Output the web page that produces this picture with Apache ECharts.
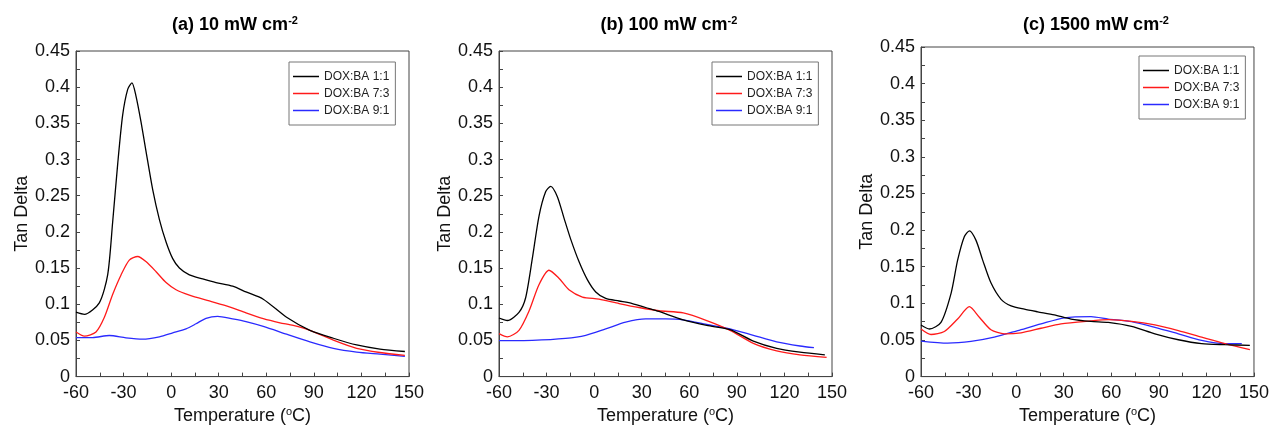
<!DOCTYPE html>
<html>
<head>
<meta charset="utf-8">
<script src="https://cdn.jsdelivr.net/npm/echarts@6/dist/echarts.min.js"></script>
<style>
  html, body { margin: 0; padding: 0; background: #fff; }
  #main { width: 1272px; height: 430px; }
</style>
</head>
<body>
<div id="main"></div>
<script>
// series names and panel titles
var seriesNames = ['DOX:BA 1:1', 'DOX:BA 7:3', 'DOX:BA 9:1'];
var seriesColors = ['#000000', '#ff1a1a', '#2a2aff'];
var panelTitles = ['(a) 10 mW cm{sup|-2}', '(b) 100 mW cm{sup|-2}', '(c) 1500 mW cm{sup|-2}'];
var xTicks = [-60, -30, 0, 30, 60, 90, 120, 150];

// (a) 10 mW cm-2   [temperature, tan delta]
var a11 = [[-60,0.089],[-54.7,0.086],[-45.3,0.102],[-40,0.141],[-36.9,0.213],[-33.7,0.294],[-30.6,0.361],[-27.4,0.397],[-24.7,0.406],[-22.2,0.388],[-19,0.352],[-15.9,0.312],[-11.6,0.258],[-7.4,0.217],[-3.2,0.186],[1,0.163],[5.2,0.150],[11.5,0.1405],[19.9,0.135],[28.3,0.130],[38.8,0.125],[47.2,0.117],[58.1,0.107],[72.8,0.082],[87.5,0.064],[102.3,0.053],[117,0.0437],[131.7,0.038],[147.4,0.0347]];
var a73 = [[-60,0.0617],[-54.7,0.056],[-47.4,0.0617],[-42.1,0.082],[-36.9,0.1135],[-31.6,0.1405],[-26.4,0.161],[-21.1,0.166],[-15.9,0.159],[-9.5,0.145],[-3.2,0.130],[3.1,0.120],[11.5,0.1126],[24.1,0.1045],[36.7,0.0964],[47.2,0.088],[58.1,0.080],[68.6,0.0743],[77,0.0707],[87.5,0.064],[102.3,0.0504],[117,0.039],[131.7,0.0333],[147.4,0.0293]];
var a91 = [[-60,0.054],[-49.5,0.054],[-39,0.0568],[-28.5,0.0536],[-18,0.0518],[-7.4,0.055],[1,0.0604],[9.4,0.066],[15.7,0.073],[22,0.0806],[29.3,0.0833],[38.8,0.0797],[47.2,0.076],[58.1,0.0694],[72.8,0.0586],[87.5,0.048],[102.3,0.039],[117,0.0338],[131.7,0.031],[147.4,0.028]];

// (b) 100 mW cm-2
var b11 = [[-60,0.081],[-54.7,0.0775],[-47.4,0.0888],[-43.2,0.109],[-39,0.163],[-34.8,0.2216],[-30.6,0.2554],[-27.4,0.263],[-23.2,0.2487],[-19,0.219],[-14.8,0.190],[-9.5,0.1586],[-4.3,0.134],[1,0.117],[7.3,0.108],[15.7,0.1045],[24.1,0.101],[32.5,0.0955],[40.9,0.090],[56.2,0.0784],[71,0.0707],[85.7,0.065],[100.4,0.049],[115.1,0.039],[129.8,0.0338],[145.5,0.030]];
var b73 = [[-60,0.0595],[-54.7,0.055],[-47.4,0.064],[-41,0.091],[-34.8,0.127],[-28.5,0.147],[-22.2,0.136],[-15.9,0.120],[-7.4,0.110],[3.1,0.107],[15.7,0.101],[28.3,0.0955],[40.9,0.091],[56.2,0.088],[71,0.0775],[85.7,0.064],[100.4,0.046],[115.1,0.0356],[129.8,0.030],[146.6,0.0266]];
var b91 = [[-60,0.0496],[-39,0.050],[-18,0.0527],[-5.3,0.057],[7.3,0.066],[19.9,0.0752],[32.5,0.0797],[45.1,0.0797],[56.2,0.0784],[71,0.072],[85.7,0.066],[100.4,0.057],[115.1,0.048],[129.8,0.0423],[138.6,0.040]];

// (c) 1500 mW cm-2
var c11 = [[-60,0.0705],[-54.7,0.065],[-47.4,0.074],[-41,0.114],[-36.9,0.159],[-32.7,0.191],[-29.5,0.199],[-25.3,0.186],[-21.1,0.159],[-15.9,0.128],[-9.5,0.1055],[-3.2,0.0965],[5.2,0.092],[13.6,0.0885],[24.1,0.0844],[34.6,0.0786],[47.2,0.0754],[58.1,0.074],[72.8,0.0686],[87.5,0.0584],[102.3,0.0503],[117,0.045],[131.7,0.0436],[147.4,0.0426]];
var c73 = [[-60,0.065],[-53.7,0.0575],[-45.3,0.0615],[-36.9,0.0786],[-29.5,0.0955],[-23.2,0.081],[-15.9,0.064],[-7.4,0.0584],[3.1,0.0598],[15.7,0.066],[28.3,0.072],[47.2,0.076],[58.1,0.0777],[72.8,0.0754],[87.5,0.0705],[102.3,0.0628],[117,0.0538],[131.7,0.045],[147.4,0.0368]];
var c91 = [[-60,0.0485],[-43.2,0.0457],[-28.5,0.048],[-13.8,0.0538],[1,0.0628],[15.7,0.072],[30.4,0.0803],[47.2,0.082],[58.1,0.0786],[72.8,0.075],[87.5,0.0673],[102.3,0.0584],[117,0.0494],[131.7,0.045],[142.3,0.045]];

var panelData = [[a11, a73, a91], [b11, b73, b91], [c11, c73, c91]];

(function () {
    var myChart = echarts.init(document.getElementById('main'));
    var font = 'Liberation Sans, Arial, sans-serif';

    // plot boxes in pixels
    var boxes = [
        {left: 76, top: 51, width: 333, height: 333},
        {left: 499, top: 51, width: 333, height: 333},
        {left: 921, top: 47, width: 333, height: 335}
    ];
    var titleX = [230, 664, 1091];
    var legendPos = [[289, 62], [712, 62], [1139, 56]];

    var grids = [], xAxes = [], yAxes = [], titles = [], legends = [], series = [];

    boxes.forEach(function (b, i) {
        grids.push({
            left: b.left, top: b.top, width: b.width, height: b.height,
            show: true, borderColor: '#444', borderWidth: 1, backgroundColor: 'transparent'
        });
        xAxes.push({
            gridIndex: i, type: 'value', min: xTicks[0], max: xTicks[xTicks.length - 1], interval: 30,
            name: 'Temperature ({sup|o}C)', nameLocation: 'middle', nameGap: 26,
            nameTextStyle: {
                fontFamily: font, fontSize: 18, color: '#111',
                rich: {sup: {fontSize: 11, fontFamily: font, color: '#111', padding: [0, 0, 8, 0]}}
            },
            axisLine: {show: true, onZero: false, lineStyle: {color: '#444', width: 1}},
            axisTick: {show: true, inside: true, length: 4, lineStyle: {color: '#444'}},
            minorTick: {show: true, splitNumber: 2, length: 4, lineStyle: {color: '#444'}},
            axisLabel: {fontFamily: font, fontSize: 18, color: '#111', margin: 7, showMinLabel: true, showMaxLabel: true},
            splitLine: {show: false}
        });
        yAxes.push({
            gridIndex: i, type: 'value', min: 0, max: 0.45, interval: 0.05,
            name: 'Tan Delta', nameLocation: 'middle', nameGap: 45,
            nameTextStyle: {fontFamily: font, fontSize: 18, color: '#111'},
            axisLine: {show: true, onZero: false, lineStyle: {color: '#444', width: 1}},
            axisTick: {show: true, inside: true, length: 4, lineStyle: {color: '#444'}},
            minorTick: {show: true, splitNumber: 2, length: 4, lineStyle: {color: '#444'}},
            axisLabel: {fontFamily: font, fontSize: 18, color: '#111', margin: 6},
            splitLine: {show: false}
        });
        titles.push({
            text: panelTitles[i], left: titleX[i], top: 10, textAlign: 'center',
            textStyle: {
                fontFamily: font, fontSize: 18, fontWeight: 'bold', color: '#000',
                rich: {sup: {fontSize: 11, fontWeight: 'bold', fontFamily: font, color: '#000', padding: [0, 0, 9, 0]}}
            }
        });
        legends.push({
            data: seriesNames, orient: 'vertical', left: legendPos[i][0], top: legendPos[i][1],
            padding: [8, 6, 8, 4], itemGap: 4, itemWidth: 26, itemHeight: 1.5, icon: 'rect',
            borderColor: '#777', borderWidth: 1, backgroundColor: '#fff',
            textStyle: {fontFamily: font, fontSize: 12, color: '#222', lineHeight: 13}
        });
        panelData[i].forEach(function (d, k) {
            series.push({
                name: seriesNames[k], type: 'line', xAxisIndex: i, yAxisIndex: i,
                data: d, smooth: 0.25, symbol: 'none',
                lineStyle: {color: seriesColors[k], width: 1.3},
                itemStyle: {color: seriesColors[k]},
                z: 3 - k
            });
        });
    });

    var option = {
        animation: false,
        backgroundColor: '#fff',
        title: titles,
        legend: legends,
        grid: grids,
        xAxis: xAxes,
        yAxis: yAxes,
        series: series
    };

    myChart.setOption(option);
}());
</script>
</body>
</html>
